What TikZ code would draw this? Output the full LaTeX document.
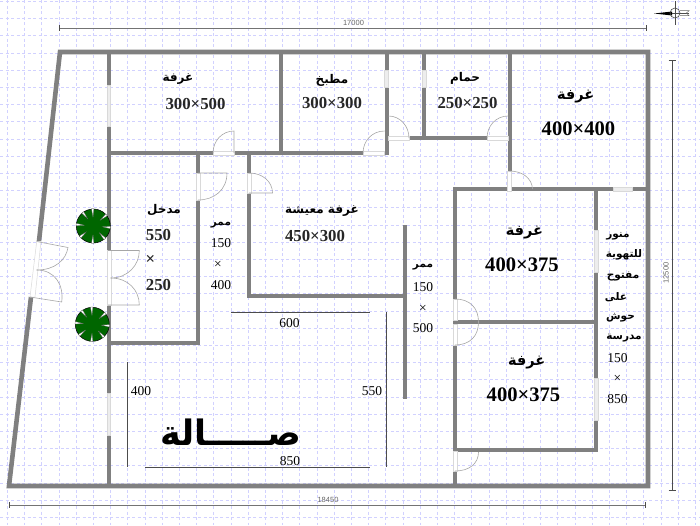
\documentclass[tikz,border=0pt]{standalone}
\usepackage{fontspec}
\setmainfont{Liberation Serif}
\newfontfamily\arabicfont[Script=Arabic]{DejaVu Sans}
\newfontfamily\dimfont{Liberation Sans}
\TeXXeTstate=1
\newcommand{\arb}[1]{{\arabicfont\beginR #1\endR}}
\tikzstyle{gridline}=[draw=blue!18!white,line width=0.6pt,dash pattern=on 3pt off 2.5pt]
\tikzstyle{wall}=[draw=black!50,line width=4pt]
\tikzstyle{outerwall}=[draw=black!50,line width=4.6pt,miter limit=10]
\tikzstyle{opening}=[draw=black!15,fill=white,line width=0.5pt]
\tikzstyle{window}=[draw=black!15,fill=black!7,line width=0.5pt]
\tikzstyle{leaf}=[draw=black!35,line width=0.6pt]
\tikzstyle{dimline}=[draw=black!70,line width=0.7pt]
\tikzstyle{outerdim}=[draw=black!55,line width=0.9pt]
\tikzstyle{dimtext}=[font=\dimfont\fontsize{7.5}{8}\selectfont,text=black!60,inner sep=0pt]
\tikzstyle{smallnum}=[font=\fontsize{13.5}{14}\selectfont,text=black,inner sep=0pt]
\tikzstyle{midnum}=[font=\bfseries\fontsize{16.8}{18}\selectfont,text=black!85,inner sep=0pt]
\tikzstyle{bignum}=[font=\bfseries\fontsize{20.6}{22}\selectfont,text=black,inner sep=0pt]
\tikzstyle{smallroom}=[font=\bfseries\fontsize{10.5}{12}\selectfont,inner sep=0pt]
\tikzstyle{midroom}=[font=\bfseries\fontsize{12}{14}\selectfont,inner sep=0pt]
\tikzstyle{bigroom}=[font=\bfseries\fontsize{14.5}{18}\selectfont,inner sep=0pt]
\tikzstyle{tree}=[shape=circle,draw=black,fill=green!40!black,line width=0.5pt,minimum size=34pt,inner sep=0pt]
\tikzstyle{notch}=[fill=white,draw=black!70,line width=0.2pt]

\begin{document}
\begin{tikzpicture}[x=1pt,y=-1pt]
\useasboundingbox (0,0) rectangle (700,525);
% grid
\foreach \gx in {0,...,40} \draw[gridline] (7.3+17.2*\gx,0) -- (7.3+17.2*\gx,525);
\foreach \gy in {0,...,30} \draw[gridline] (0,1.3+17.2*\gy) -- (700,1.3+17.2*\gy);
% outer walls
\draw[outerwall] (39,241) -- (60,52) -- (648,52) -- (648,486) -- (9,486) -- (31,297);
% left part
\draw[wall] (109,52) -- (109,85);
\draw[wall] (109,126) -- (109,250);
\draw[wall] (109,305) -- (109,393);
\draw[wall] (109,435) -- (109,486);
\draw[wall] (107,153) -- (213,153);
\draw[wall] (234,153) -- (388,153);
\draw[wall] (198,153) -- (198,173);
\draw[wall] (198,200) -- (198,345);
\draw[wall] (109,343) -- (200,343);
\draw[wall] (249,153) -- (249,173);
\draw[wall] (249,193) -- (249,298);
\draw[wall] (247,296) -- (407,296);
\draw[wall] (405,225) -- (405,399);
\draw[wall] (281,52) -- (281,153);
% kitchen and bath
\draw[wall] (386.5,52) -- (386.5,70);
\draw[wall] (386.5,87) -- (386.5,155);
\draw[wall] (424,52) -- (424,70);
\draw[wall] (424,87) -- (424,138);
\draw[wall] (409,138) -- (487,138);
% right rooms
\draw[wall] (509.5,52) -- (509.5,171);
\draw[wall] (453,189) -- (613,189);
\draw[wall] (632,189) -- (648,189);
\draw[wall] (455,187) -- (455,299);
\draw[wall] (455,345) -- (455,451);
\draw[wall] (455,471) -- (455,486);
\draw[wall] (453,322) -- (598,322);
\draw[wall] (596,189) -- (596,230);
\draw[wall] (596,272) -- (596,378);
\draw[wall] (596,420) -- (596,451);
\draw[wall] (453,449.5) -- (598,449.5);
% windows
\draw[window] (107.5,85) rectangle (110.5,126);
\draw[window] (107.5,393) rectangle (110.5,435);
\draw[window] (384.5,70) rectangle (388.5,87);
\draw[window] (422,70) rectangle (426,87);
\draw[window] (613,187) rectangle (632,191);
\draw[window] (594,230) rectangle (598,272);
\draw[window] (594,378) rectangle (598,420);
% door openings
\draw[opening] (36.7,241.5) -- (41,241.5) -- (35,297) -- (30,297) -- cycle;
\draw[opening] (107,250.5) rectangle (111,305);
\draw[opening] (213,151) rectangle (234,155);
\draw[opening] (196,173) rectangle (200,200);
\draw[opening] (247,173) rectangle (251,193);
\draw[opening] (363,151) rectangle (384.5,155);
\draw[opening] (388.5,136) rectangle (409,140);
\draw[opening] (487,136) rectangle (508,140);
\draw[opening] (507.5,171) rectangle (511.5,191);
\draw[opening] (453,299) rectangle (457,320);
\draw[opening] (453,324) rectangle (457,345);
\draw[opening] (453,451.5) rectangle (457,471);
% door leaves
\draw[leaf] (36.7,241.5) -- (68,247.5) .. controls (66,260) and (55,270) .. (36.7,270);
\draw[leaf] (30,297) -- (61.7,302) .. controls (64,285) and (55,270) .. (36.7,270);
\draw[leaf] (108,250.5) -- (139.3,250.5) .. controls (139.3,265) and (128,278) .. (110.7,278);
\draw[leaf] (108,305) -- (139.3,305) .. controls (139.3,290) and (128,278) .. (110.7,278);
\draw[leaf] (234,153) -- (234,131) .. controls (222,131) and (213,141) .. (213,153);
\draw[leaf] (198,173) -- (227,173) .. controls (227,190) and (214,200) .. (198,200);
\draw[leaf] (249,173) .. controls (263,173) and (272.5,182) .. (272.5,193) -- (249,193);
\draw[leaf] (384.5,131) .. controls (372,131) and (363,141) .. (363,153);
\draw[leaf] (388.5,116) .. controls (400,116) and (409,126) .. (409,138);
\draw[leaf] (508,116) .. controls (496,116) and (487,126) .. (487,138);
\draw[leaf] (509.5,171) .. controls (522,171) and (532,178) .. (532.5,189);
\draw[leaf] (455,299) .. controls (470,299) and (478.5,308) .. (478.5,322);
\draw[leaf] (455,345) .. controls (470,345) and (478.5,336) .. (478.5,322);
\draw[leaf] (455,471) .. controls (470,471) and (478.5,463) .. (478.5,452);
% trees
\node[tree] (tree1) at (93.3,226) {};
\foreach \ang in {-92,-40,5,48,92,140,185,232}
  \path[notch,shift={(93.3,226)}] (\ang-4:17.3) -- (\ang:9) -- (\ang+4:17.3) -- cycle;
\node[tree] (tree2) at (92.3,324.3) {};
\foreach \ang in {-92,-40,5,48,92,140,185,232}
  \path[notch,shift={(92.3,324.3)}] (\ang-4:17.3) -- (\ang:9) -- (\ang+4:17.3) -- cycle;
% outer dimensions
\coordinate (top_l) at (59,28);
\coordinate (top_r) at (646,28);
\coordinate (bot_l) at (9,505);
\coordinate (bot_r) at (645,505);
\coordinate (rgt_t) at (672,60);
\coordinate (rgt_b) at (672,490);
\draw[outerdim] (top_l) -- (top_r);
\draw[outerdim] (bot_l) -- (bot_r);
\draw[dimline] (rgt_t) -- (rgt_b);
\draw[dimline] (59,25) -- (59,31);
\draw[dimline] (646,25) -- (646,31);
\draw[dimline] (9,502) -- (9,508);
\draw[dimline] (645,502) -- (645,508);
\draw[dimline] (668.5,60) -- (675.5,60);
\draw[dimline] (668.5,490) -- (675.5,490);
\node[dimtext] (d17000) at (353.5,22.5) {17000};
\node[dimtext] (d18450) at (328,499.5) {18450};
\node[dimtext,rotate=90] (d12500) at (666,273) {12500};
% inner dimensions
\coordinate (d600_l) at (231,312);
\coordinate (d600_r) at (370,312);
\coordinate (d850_l) at (145,467);
\coordinate (d850_r) at (370,467);
\coordinate (d550_t) at (386.5,312);
\coordinate (d550_b) at (386.5,467);
\coordinate (d400_t) at (127.5,362);
\coordinate (d400_b) at (127.5,467);
\draw[dimline] (d600_l) -- (d600_r);
\draw[dimline] (d850_l) -- (d850_r);
\draw[dimline] (d550_t) -- (d550_b);
\draw[dimline] (d400_t) -- (d400_b);
\node[smallnum] (n600) at (289.5,323.5) {600};
\node[smallnum] (n850) at (290,461) {850};
\node[smallnum] (n550) at (372,391) {550};
\node[smallnum] (n400) at (141,391) {400};
% top rooms
\node[midroom] (r1) at (178,79) {\arb{غرفة}};
\node[midnum] (s1) at (195.5,104) {300×500};
\node[midroom] (r2) at (332,80) {\arb{مطبخ}};
\node[midnum] (s2) at (332,103) {300×300};
\node[midroom] (r3) at (465,78) {\arb{حمام}};
\node[midnum] (s3) at (467.5,102.5) {250×250};
\node[bigroom] (r4) at (575.7,97) {\arb{غرفة}};
\node[bignum] (s4) at (578.5,128.5) {400×400};
% entrance
\node[midroom] (r5) at (164,210) {\arb{مدخل}};
\node[midnum] (s5a) at (158.5,234.5) {550};
\node[midnum] (s5b) at (150.5,260) {×};
\node[midnum] (s5c) at (158.5,285) {250};
% corridors
\node[smallroom] (r6) at (221,225) {\arb{ممر}};
\node[smallnum] (s6a) at (221,243.5) {150};
\node[smallnum] (s6b) at (218,265) {×};
\node[smallnum] (s6c) at (221,285) {400};
\node[smallroom] (r7) at (423,267) {\arb{ممر}};
\node[smallnum] (s7a) at (423,287) {150};
\node[smallnum] (s7b) at (423,309) {×};
\node[smallnum] (s7c) at (423,328) {500};
% living room and hall
\node[midroom] (r8) at (322,211) {\arb{غرفة معيشة}};
\node[midnum] (s8) at (315,236) {450×300};
\node[font=\bfseries\fontsize{35}{40}\selectfont,inner sep=0pt] (r9) at (231,432) {\arb{صـــــالة}};
% right rooms
\node[bigroom] (r10) at (524.5,233) {\arb{غرفة}};
\node[bignum] (s10) at (522,264.5) {400×375};
\node[bigroom] (r11) at (526.7,363) {\arb{غرفة}};
\node[bignum] (s11) at (523.5,395) {400×375};
% light well
\node[smallroom] (w1) at (618,236) {\arb{منور}};
\node[smallroom] (w2) at (624,255) {\arb{للتهوية}};
\node[smallroom] (w3) at (623,276) {\arb{مفتوح}};
\node[smallroom] (w4) at (616,297) {\arb{على}};
\node[smallroom] (w5) at (620.5,318) {\arb{حوش}};
\node[smallroom] (w6) at (624,338) {\arb{مدرسة}};
\node[smallnum] (w7) at (617.5,358) {150};
\node[smallnum] (w8) at (617.5,379) {×};
\node[smallnum] (w9) at (617.5,399) {850};
% compass
\draw[dimline] (675,1) -- (675,25);
\draw[dimline] (670,13) -- (689,13);
\fill[black] (654,13.5) -- (672,11.5) -- (672,15.5) -- cycle;
\draw[draw=black!70,line width=0.6pt] (675,13) circle (5);
\draw[draw=black!60,line width=0.5pt] (680,10.7) -- (689,10.7) -- (686.5,13) -- (689,15.7) -- (680,15.7);
\end{tikzpicture}
\end{document}
